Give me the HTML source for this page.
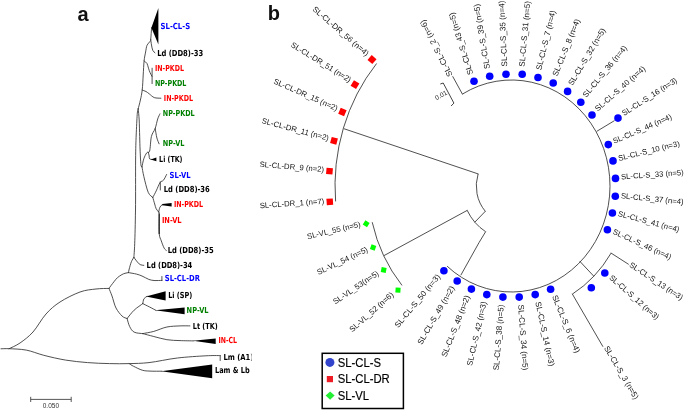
<!DOCTYPE html>
<html><head><meta charset="utf-8"><title>Figure</title>
<style>html,body{margin:0;padding:0;background:#fff;}svg{display:block;will-change:transform;filter:opacity(1)}</style></head>
<body>
<svg width="685" height="411" viewBox="0 0 685 411">
<path d="M151.6,27.7 C151.4,29.6 151.0,37.1 150.7,39.4 C150.4,41.7 150.5,40.6 149.9,41.6 C149.3,42.6 147.7,43.6 147.0,45.3 C146.3,47.0 146.1,49.4 145.6,52.0 C145.1,54.6 144.5,57.1 144.1,60.9 C143.7,64.7 143.5,70.1 143.2,75.0 C142.9,79.9 142.7,85.9 142.2,90.1 C141.7,94.3 141.1,96.9 140.4,100.0 C139.7,103.1 138.6,107.3 138.2,108.8" fill="none" stroke="#303030" stroke-width="0.85" stroke-linecap="round" stroke-linejoin="round"/>
<path d="M150.7,39.4 C150.8,40.3 151.2,43.2 151.5,45.0 C151.8,46.8 152.2,49.1 152.8,50.4 C153.4,51.7 154.6,52.4 155.0,52.8" fill="none" stroke="#303030" stroke-width="0.85" stroke-linecap="round" stroke-linejoin="round"/>
<path d="M144.1,60.9 C144.6,61.3 146.3,62.3 147.0,63.5 C147.7,64.7 148.0,66.7 148.5,68.2 C149.0,69.7 149.4,71.2 150.0,72.5 C150.6,73.8 151.6,75.7 151.9,76.3" fill="none" stroke="#303030" stroke-width="0.85" stroke-linecap="round" stroke-linejoin="round"/>
<path d="M152.1,68.2 L152.1,83.6" fill="none" stroke="#303030" stroke-width="0.85" stroke-linecap="round" stroke-linejoin="round"/>
<path d="M142.2,90.1 C142.8,90.3 144.8,90.9 146.0,91.5 C147.2,92.1 147.8,92.8 149.2,93.8 C150.6,94.8 152.4,96.9 154.3,97.6 C156.2,98.3 159.8,98.1 160.9,98.2" fill="none" stroke="#303030" stroke-width="0.85" stroke-linecap="round" stroke-linejoin="round"/>
<path d="M138.2,108.8 C138.0,109.8 137.5,110.2 137.2,114.6 C136.9,119.0 136.5,127.4 136.2,135.0 C135.9,142.6 135.7,147.5 135.6,160.0 C135.5,172.5 135.7,196.0 135.5,210.0 C135.3,224.0 135.0,235.9 134.7,243.8 C134.4,251.7 134.0,255.1 133.9,257.3" fill="none" stroke="#303030" stroke-width="0.85" stroke-linecap="round" stroke-linejoin="round"/>
<path d="M138.2,108.8 C138.4,110.7 138.9,115.4 139.2,120.0 C139.4,124.6 139.5,131.5 139.7,136.5 C139.8,141.5 139.9,145.3 140.1,150.0 C140.3,154.7 140.6,161.8 140.9,164.6 C141.2,167.4 141.8,166.4 142.0,166.8" fill="none" stroke="#303030" stroke-width="0.85" stroke-linecap="round" stroke-linejoin="round"/>
<path d="M142.0,166.8 C142.3,165.5 143.0,161.1 143.8,158.8 C144.6,156.5 145.7,154.2 146.7,152.9 C147.7,151.6 148.8,153.8 149.6,151.1 C150.4,148.4 150.5,140.3 151.4,136.5 C152.3,132.7 154.1,131.4 155.2,128.5 C156.2,125.6 156.9,121.4 157.7,119.0 C158.5,116.6 159.5,114.8 159.9,113.9" fill="none" stroke="#303030" stroke-width="0.85" stroke-linecap="round" stroke-linejoin="round"/>
<path d="M155.2,128.5 C155.5,130.1 156.2,135.4 156.9,138.0 C157.6,140.6 158.7,142.8 159.1,143.8" fill="none" stroke="#303030" stroke-width="0.85" stroke-linecap="round" stroke-linejoin="round"/>
<path d="M148.2,152.0 C148.4,152.7 149.0,154.9 149.2,156.0 C149.4,157.1 149.0,158.2 149.6,158.8 C150.2,159.4 152.1,159.4 152.6,159.5" fill="none" stroke="#303030" stroke-width="0.85" stroke-linecap="round" stroke-linejoin="round"/>
<path d="M142.0,166.8 C142.3,168.4 142.8,172.1 143.8,176.3 C144.8,180.6 146.7,188.8 148.2,192.3 C149.7,195.8 152.0,196.6 152.8,197.4" fill="none" stroke="#303030" stroke-width="0.85" stroke-linecap="round" stroke-linejoin="round"/>
<path d="M152.8,197.4 C153.4,196.3 155.0,193.4 156.2,190.9 C157.4,188.4 158.9,184.3 160.1,182.5 C161.3,180.7 162.3,181.6 163.4,180.3 C164.5,179.0 166.1,175.5 166.6,174.5" fill="none" stroke="#303030" stroke-width="0.85" stroke-linecap="round" stroke-linejoin="round"/>
<path d="M160.3,181.8 L160.3,190.0" fill="none" stroke="#303030" stroke-width="0.85" stroke-linecap="round" stroke-linejoin="round"/>
<path d="M152.8,197.4 C153.1,198.5 154.1,202.1 154.7,204.0 C155.3,205.9 155.5,207.5 156.2,208.8 C156.9,210.1 158.3,211.5 158.7,212.0" fill="none" stroke="#303030" stroke-width="0.85" stroke-linecap="round" stroke-linejoin="round"/>
<path d="M158.7,212.0 C158.9,211.2 159.3,208.5 159.9,207.3 C160.5,206.1 161.2,205.4 162.0,204.9 C162.8,204.4 164.1,204.7 164.5,204.6" fill="none" stroke="#303030" stroke-width="0.85" stroke-linecap="round" stroke-linejoin="round"/>
<path d="M158.7,212.0 C158.8,212.4 159.0,211.0 159.1,214.6 C159.2,218.2 158.8,229.2 159.2,233.6 C159.6,238.0 160.5,238.5 161.3,240.9 C162.1,243.3 163.3,246.6 164.2,248.2 C165.0,249.8 166.0,250.0 166.4,250.4" fill="none" stroke="#303030" stroke-width="0.85" stroke-linecap="round" stroke-linejoin="round"/>
<path d="M133.9,257.3 C134.3,257.9 135.5,259.7 136.5,260.9 C137.5,262.1 138.9,263.9 140.1,264.6 C141.3,265.3 143.2,265.2 143.8,265.3" fill="none" stroke="#303030" stroke-width="0.85" stroke-linecap="round" stroke-linejoin="round"/>
<path d="M133.9,257.3 C133.5,258.0 132.2,259.8 131.4,261.7 C130.6,263.6 129.7,267.2 129.2,269.0 C128.7,270.8 128.6,272.0 128.5,272.6" fill="none" stroke="#303030" stroke-width="0.85" stroke-linecap="round" stroke-linejoin="round"/>
<path d="M128.5,272.6 C129.8,272.9 134.2,273.5 136.5,274.1 C138.8,274.7 139.9,275.1 142.0,276.0 C144.1,276.9 146.8,278.6 148.8,279.4 C150.8,280.1 151.8,280.3 154.0,280.5 C156.2,280.7 160.6,280.4 161.9,280.4" fill="none" stroke="#303030" stroke-width="0.85" stroke-linecap="round" stroke-linejoin="round"/>
<path d="M161.9,276.5 L161.9,280.6" fill="none" stroke="#303030" stroke-width="0.85" stroke-linecap="round" stroke-linejoin="round"/>
<path d="M128.5,272.6 C127.9,272.7 126.1,273.0 125.0,273.3 C123.9,273.6 123.2,273.9 121.9,274.6 C120.7,275.3 118.8,276.5 117.5,277.6 C116.2,278.7 115.5,279.9 114.4,281.2 C113.3,282.5 111.9,284.4 111.0,285.6 C110.1,286.8 109.3,287.9 109.0,288.4" fill="none" stroke="#303030" stroke-width="0.85" stroke-linecap="round" stroke-linejoin="round"/>
<path d="M9.0,348.7 C10.8,347.8 16.0,345.8 20.0,343.0 C24.0,340.2 28.7,336.8 33.0,332.0 C37.3,327.2 41.5,319.0 46.0,314.0 C50.5,309.0 54.3,305.7 60.0,302.0 C65.7,298.3 74.0,294.2 80.0,292.0 C86.0,289.8 91.2,289.6 96.0,289.0 C100.8,288.4 106.8,288.5 109.0,288.4" fill="none" stroke="#303030" stroke-width="0.85" stroke-linecap="round" stroke-linejoin="round"/>
<path d="M109.0,288.4 C109.5,289.7 110.8,292.7 112.0,296.0 C113.2,299.3 114.3,304.7 116.0,308.0 C117.7,311.3 120.2,314.2 122.0,316.0 C123.8,317.8 126.2,318.1 127.1,318.5" fill="none" stroke="#303030" stroke-width="0.85" stroke-linecap="round" stroke-linejoin="round"/>
<path d="M127.1,318.5 C128.3,317.1 131.5,312.7 134.1,310.2 C136.7,307.7 141.4,304.7 142.8,303.6" fill="none" stroke="#303030" stroke-width="0.85" stroke-linecap="round" stroke-linejoin="round"/>
<path d="M142.8,303.6 C143.0,302.8 143.2,300.0 143.9,298.8 C144.6,297.6 146.5,296.8 147.0,296.4" fill="none" stroke="#303030" stroke-width="0.85" stroke-linecap="round" stroke-linejoin="round"/>
<path d="M142.8,303.6 C143.9,304.2 147.2,305.8 149.4,306.9 C151.6,308.0 154.9,309.8 156.0,310.4" fill="none" stroke="#303030" stroke-width="0.85" stroke-linecap="round" stroke-linejoin="round"/>
<path d="M127.1,318.5 C127.5,319.9 128.5,324.3 129.7,326.6 C130.9,328.9 131.9,330.9 134.1,332.1 C136.3,333.3 141.4,333.4 142.8,333.6" fill="none" stroke="#303030" stroke-width="0.85" stroke-linecap="round" stroke-linejoin="round"/>
<path d="M142.8,333.6 C144.6,333.2 149.8,332.5 153.8,331.4 C157.8,330.3 162.5,327.9 166.9,327.0 C171.3,326.1 176.3,326.1 180.1,325.9 C183.9,325.7 188.3,325.9 189.9,325.9" fill="none" stroke="#303030" stroke-width="0.85" stroke-linecap="round" stroke-linejoin="round"/>
<path d="M142.8,333.6 C144.6,334.1 149.8,335.5 153.8,336.5 C157.8,337.5 162.5,339.0 166.9,339.7 C171.3,340.4 175.5,340.4 180.0,340.6 C184.5,340.8 191.7,340.8 194.0,340.9" fill="none" stroke="#303030" stroke-width="0.85" stroke-linecap="round" stroke-linejoin="round"/>
<path d="M1.0,348.8 C2.3,348.8 4.8,348.5 9.0,348.7 C13.2,348.9 20.5,349.0 26.3,350.1 C32.1,351.2 37.2,353.6 43.8,355.3 C50.4,357.0 58.4,358.9 65.7,360.1 C73.0,361.3 80.3,362.0 87.6,362.6 C94.9,363.2 102.6,363.4 109.5,363.6 C116.4,363.8 122.6,363.8 129.2,363.6 C135.8,363.4 141.0,363.5 149.0,362.6 C157.0,361.7 167.9,359.1 177.4,358.0 C186.9,356.9 198.8,356.2 205.9,355.8 C213.0,355.4 217.8,355.6 220.2,355.6" fill="none" stroke="#303030" stroke-width="0.85" stroke-linecap="round" stroke-linejoin="round"/>
<path d="M220.2,355.6 L220.2,360.5" fill="none" stroke="#303030" stroke-width="0.85" stroke-linecap="round" stroke-linejoin="round"/>
<path d="M129.2,363.6 C129.9,364.1 131.4,365.2 133.6,366.3 C135.8,367.4 139.6,369.4 142.3,370.2 C145.0,371.0 146.7,370.9 150.0,371.1 C153.3,371.3 160.0,371.2 162.0,371.2" fill="none" stroke="#303030" stroke-width="0.85" stroke-linecap="round" stroke-linejoin="round"/>
<path d="M159.2,213.5 L159.2,234" stroke="#111" stroke-width="1.05" fill="none"/>
<polygon points="151.4,27.7 158.4,8.0 158.4,44.5" fill="#000"/>
<polygon points="150.6,159.4 156.4,157.6 156.4,161.2" fill="#000"/>
<polygon points="162.3,204.1 162.3,205.3 171.6,206.5 171.6,202.9" fill="#000"/>
<polygon points="146.0,296.5 165.6,291.2 165.6,300.4" fill="#000"/>
<polygon points="154.9,310.3 184.6,307.4 184.6,314.2" fill="#000"/>
<polygon points="193.0,340.8 215.7,338.6 215.7,344.0" fill="#000"/>
<polygon points="161.0,371.2 212.2,364.6 212.2,378.2" fill="#000"/>
<defs><clipPath id="cutA"><rect x="0" y="340" width="251.5" height="40"/></clipPath></defs>
<g font-family="'DejaVu Sans','Liberation Sans',sans-serif" font-weight="bold" font-size="7.6px">
<g><text transform="translate(160.6,28.9) scale(1,1.1)" fill="#0000ff" textLength="29.5" lengthAdjust="spacingAndGlyphs">SL-CL-S</text></g>
<g><text transform="translate(157.2,55.9) scale(1,1.1)" fill="#000000" textLength="46.0" lengthAdjust="spacingAndGlyphs">Ld (DD8)-33</text></g>
<g><text transform="translate(155.0,70.8) scale(1,1.1)" fill="#ff0000" textLength="28.9" lengthAdjust="spacingAndGlyphs">IN-PKDL</text></g>
<g><text transform="translate(155.0,85.9) scale(1,1.1)" fill="#008000" textLength="31.4" lengthAdjust="spacingAndGlyphs">NP-PKDL</text></g>
<g><text transform="translate(163.8,100.8) scale(1,1.1)" fill="#ff0000" textLength="29.2" lengthAdjust="spacingAndGlyphs">IN-PKDL</text></g>
<g><text transform="translate(162.8,115.7) scale(1,1.1)" fill="#008000" textLength="31.8" lengthAdjust="spacingAndGlyphs">NP-PKDL</text></g>
<g><text transform="translate(162.8,146.4) scale(1,1.1)" fill="#008000" textLength="21.6" lengthAdjust="spacingAndGlyphs">NP-VL</text></g>
<g><text transform="translate(159.1,161.8) scale(1,1.1)" fill="#000000" textLength="23.4" lengthAdjust="spacingAndGlyphs">Li (TK)</text></g>
<g><text transform="translate(169.6,178.2) scale(1,1.1)" fill="#0000ff" textLength="21.1" lengthAdjust="spacingAndGlyphs">SL-VL</text></g>
<g><text transform="translate(163.8,192.4) scale(1,1.1)" fill="#000000" textLength="46.0" lengthAdjust="spacingAndGlyphs">Ld (DD8)-36</text></g>
<g><text transform="translate(173.9,207.4) scale(1,1.1)" fill="#ff0000" textLength="29.2" lengthAdjust="spacingAndGlyphs">IN-PKDL</text></g>
<g><text transform="translate(161.9,222.6) scale(1,1.1)" fill="#ff0000" textLength="19.7" lengthAdjust="spacingAndGlyphs">IN-VL</text></g>
<g><text transform="translate(167.7,252.8) scale(1,1.1)" fill="#000000" textLength="46.0" lengthAdjust="spacingAndGlyphs">Ld (DD8)-35</text></g>
<g><text transform="translate(146.6,267.8) scale(1,1.1)" fill="#000000" textLength="45.7" lengthAdjust="spacingAndGlyphs">Ld (DD8)-34</text></g>
<g><text transform="translate(164.8,281.3) scale(1,1.1)" fill="#0000ff" textLength="35.1" lengthAdjust="spacingAndGlyphs">SL-CL-DR</text></g>
<g><text transform="translate(168.2,297.8) scale(1,1.1)" fill="#000000" textLength="24.1" lengthAdjust="spacingAndGlyphs">Li (SP)</text></g>
<g><text transform="translate(186.6,313.4) scale(1,1.1)" fill="#008000" textLength="21.9" lengthAdjust="spacingAndGlyphs">NP-VL</text></g>
<g><text transform="translate(192.8,328.5) scale(1,1.1)" fill="#000000" textLength="24.9" lengthAdjust="spacingAndGlyphs">Lt (TK)</text></g>
<g><text transform="translate(218.4,343.4) scale(1,1.1)" fill="#ff0000" textLength="18.6" lengthAdjust="spacingAndGlyphs">IN-CL</text></g>
<g clip-path="url(#cutA)"><text transform="translate(223.4,360.4) scale(1,1.1)" fill="#000000" textLength="30.0" lengthAdjust="spacingAndGlyphs">Lm (A1)</text></g>
<g><text transform="translate(215.0,373.4) scale(1,1.1)" fill="#000000" textLength="34.6" lengthAdjust="spacingAndGlyphs">Lam &amp; Lb</text></g>
</g>
<path d="M30.7,399.4 H71.2 M30.7,396.8 V402 M71.2,396.8 V402" stroke="#444" stroke-width="0.9" fill="none"/>
<text x="50.9" y="408.3" font-family="'Liberation Sans',sans-serif" font-size="6.5px" fill="#333" text-anchor="middle">0.050</text>
<text x="77.5" y="20.8" font-family="'Liberation Sans',sans-serif" font-weight="bold" font-size="20px" fill="#111">a</text>
<text x="267.8" y="20.4" font-family="'Liberation Sans',sans-serif" font-weight="bold" font-size="20px" fill="#111">b</text>
<path d="M462.4,94.1 A98.5,106.0 0 1 1 447.1,266.2" fill="none" stroke="#303030" stroke-width="0.85"/>
<path d="M462.4,94.1 L452.8,76.6" fill="none" stroke="#303030" stroke-width="0.85" stroke-linecap="round" stroke-linejoin="round"/>
<path d="M597.0,131.2 L614.2,120.8" fill="none" stroke="#303030" stroke-width="0.85" stroke-linecap="round" stroke-linejoin="round"/>
<path d="M580.0,261.5 L593.5,275.9" fill="none" stroke="#303030" stroke-width="0.85" stroke-linecap="round" stroke-linejoin="round"/>
<path d="M611.1,253.1 A117.5,126.4 0 0 1 572.4,294.1" fill="none" stroke="#303030" stroke-width="0.85"/>
<path d="M611.1,253.1 L628.4,264.2" fill="none" stroke="#303030" stroke-width="0.85" stroke-linecap="round" stroke-linejoin="round"/>
<path d="M572.4,294.1 L602.8,346.4" fill="none" stroke="#303030" stroke-width="0.85" stroke-linecap="round" stroke-linejoin="round"/>
<path d="M461.0,274.9 L478.9,242.8 L485.5,231.9" fill="none" stroke="#303030" stroke-width="0.85" stroke-linecap="round" stroke-linejoin="round"/>
<path d="M485.6,231.7 A49.8,53.6 0 0 1 467.2,210.4" fill="none" stroke="#303030" stroke-width="0.85"/>
<path d="M467.2,210.4 L384.2,255.5" fill="none" stroke="#303030" stroke-width="0.85" stroke-linecap="round" stroke-linejoin="round"/>
<path d="M485.3,211.3 A35.2,37.9 0 0 1 478.1,173.9" fill="none" stroke="#303030" stroke-width="0.85"/>
<path d="M485.3,211.3 L475.0,222.0" fill="none" stroke="#303030" stroke-width="0.85" stroke-linecap="round" stroke-linejoin="round"/>
<path d="M478.1,173.9 L344.2,128.8" fill="none" stroke="#303030" stroke-width="0.85" stroke-linecap="round" stroke-linejoin="round"/>
<path d="M335.6,201.4 A176.5,189.9 0 0 1 376.6,63.5" fill="none" stroke="#303030" stroke-width="0.85"/>
<path d="M402.0,285.4 A143.3,154.2 0 0 1 372.2,222.2" fill="none" stroke="#303030" stroke-width="0.85"/>
<g font-family="'Liberation Sans',sans-serif" font-size="8px" fill="#151515">
<text transform="translate(473.2,73.8) rotate(-107.3)" font-size="8.07px" text-anchor="start" textLength="64.7" lengthAdjust="spacingAndGlyphs">SL-CL-S_43 (n=5)</text>
<text transform="translate(489.9,68.6) rotate(-99.5)" font-size="8.10px" text-anchor="start">SL-CL-S_39 (n=5)</text>
<text transform="translate(507.2,66.5) rotate(-92.6)" font-size="8.11px" text-anchor="start">SL-CL-S_35 (n=4)</text>
<text transform="translate(524.4,66.9) rotate(-84.7)" font-size="8.10px" text-anchor="start">SL-CL-S_31 (n=5)</text>
<text transform="translate(541.2,70.6) rotate(-76.3)" font-size="8.08px" text-anchor="start">SL-CL-S_7 (n=4)</text>
<text transform="translate(557.3,76.8) rotate(-68.0)" font-size="8.05px" text-anchor="start">SL-CL-S_8 (n=4)</text>
<text transform="translate(572.5,86.1) rotate(-59.3)" font-size="8.01px" text-anchor="start">SL-CL-S_32 (n=5)</text>
<text transform="translate(586.3,97.9) rotate(-50.4)" font-size="7.95px" text-anchor="start">SL-CL-S_36 (n=4)</text>
<text transform="translate(597.8,111.8) rotate(-41.4)" font-size="7.89px" text-anchor="start">SL-CL-S_40 (n=4)</text>
<text transform="translate(624.0,116.0) rotate(-32.5)" font-size="7.83px" text-anchor="start">SL-CL-S_16 (n=3)</text>
<text transform="translate(614.3,143.7) rotate(-23.2)" font-size="7.78px" text-anchor="start">SL-CL-S_44 (n=4)</text>
<text transform="translate(618.9,161.0) rotate(-13.9)" font-size="7.74px" text-anchor="start" textLength="63.1" lengthAdjust="spacingAndGlyphs">SL-CL-S_10 (n=3)</text>
<text transform="translate(621.2,179.5) rotate(-4.2)" font-size="7.72px" text-anchor="start">SL-CL-S_33 (n=5)</text>
<text transform="translate(620.7,198.3) rotate(5.7)" font-size="7.72px" text-anchor="start">SL-CL-S_37 (n=4)</text>
<text transform="translate(617.6,215.9) rotate(15.0)" font-size="7.75px" text-anchor="start">SL-CL-S_41 (n=4)</text>
<text transform="translate(612.2,233.5) rotate(24.5)" font-size="7.79px" text-anchor="start">SL-CL-S_46 (n=4)</text>
<text transform="translate(608.7,278.4) rotate(41.3)" font-size="7.89px" text-anchor="start" textLength="63.1" lengthAdjust="spacingAndGlyphs">SL-CL-S_12 (n=3)</text>
<text transform="translate(552.0,296.6) rotate(67.8)" font-size="8.05px" text-anchor="start" textLength="61.5" lengthAdjust="spacingAndGlyphs">SL-CL-S_6 (n=4)</text>
<text transform="translate(535.3,302.3) rotate(77.7)" font-size="8.09px" text-anchor="start">SL-CL-S_14 (n=3)</text>
<text transform="translate(518.2,304.8) rotate(86.0)" font-size="8.10px" text-anchor="start">SL-CL-S_34 (n=5)</text>
<text transform="translate(503.8,304.8) rotate(274.4)" font-size="8.10px" text-anchor="end">SL-CL-S_38 (n=5)</text>
<text transform="translate(486.6,302.2) rotate(282.8)" font-size="8.09px" text-anchor="end">SL-CL-S_42 (n=3)</text>
<text transform="translate(470.1,296.5) rotate(291.3)" font-size="8.06px" text-anchor="end">SL-CL-S_48 (n=2)</text>
<text transform="translate(454.9,287.9) rotate(300.1)" font-size="8.01px" text-anchor="end" textLength="66.2" lengthAdjust="spacingAndGlyphs">SL-CL-S_49 (n=2)</text>
<text transform="translate(440.7,276.9) rotate(309.6)" font-size="7.95px" text-anchor="end" textLength="66.6" lengthAdjust="spacingAndGlyphs">SL-CL-S_50 (n=3)</text>
<text transform="translate(452.8,74.9) rotate(-117.0)" font-size="8.03px" text-anchor="start" textLength="62.5" lengthAdjust="spacingAndGlyphs">SL-CL-S_2 (n=6)</text>
<text transform="translate(628.8,266.3) rotate(33.2)" font-size="7.84px" text-anchor="start" textLength="62.1" lengthAdjust="spacingAndGlyphs">SL-CL-S_13 (n=3)</text>
<text transform="translate(603.8,347.9) rotate(59.5)" font-size="8.01px" text-anchor="start" textLength="60.4" lengthAdjust="spacingAndGlyphs">SL-CL-S_3 (n=5)</text>
<text transform="translate(366.1,56.5) rotate(400.7)" font-size="7.88px" text-anchor="end" textLength="71.3" lengthAdjust="spacingAndGlyphs">SL-CL-DR_56 (n=4)</text>
<text transform="translate(349.0,82.6) rotate(391.8)" font-size="7.83px" text-anchor="end" textLength="69.1" lengthAdjust="spacingAndGlyphs">SL-CL-DR_51 (n=2)</text>
<text transform="translate(336.4,111.0) rotate(23.6)" font-size="7.78px" text-anchor="end">SL-CL-DR_15 (n=2)</text>
<text transform="translate(328.1,140.8) rotate(374.9)" font-size="7.75px" text-anchor="end" textLength="69.1" lengthAdjust="spacingAndGlyphs">SL-CL-DR_11 (n=2)</text>
<text transform="translate(323.8,172.1) rotate(4.7)" font-size="7.72px" text-anchor="end">SL-CL-DR_9 (n=2)</text>
<text transform="translate(324.3,203.7) rotate(356.0)" font-size="7.72px" text-anchor="end">SL-CL-DR_1 (n=7)</text>
<text transform="translate(361.0,226.6) rotate(346.7)" font-size="7.74px" text-anchor="end">SL-VL_55 (n=5)</text>
<text transform="translate(368.4,251.4) rotate(334.6)" font-size="7.79px" text-anchor="end">SL-VL_54 (n=5)</text>
<text transform="translate(379.4,274.7) rotate(325.9)" font-size="7.84px" text-anchor="end">SL-VL_53(n=5)</text>
<text transform="translate(394.1,295.6) rotate(318.5)" font-size="7.89px" text-anchor="end">SL-VL_52 (n=6)</text>
</g>
<circle cx="474.0" cy="81.3" r="3.8" fill="#0000ff"/>
<circle cx="489.7" cy="76.3" r="3.8" fill="#0000ff"/>
<circle cx="506.0" cy="74.2" r="3.8" fill="#0000ff"/>
<circle cx="522.2" cy="74.3" r="3.8" fill="#0000ff"/>
<circle cx="538.0" cy="77.5" r="3.8" fill="#0000ff"/>
<circle cx="553.2" cy="83.0" r="3.8" fill="#0000ff"/>
<circle cx="567.6" cy="91.4" r="3.8" fill="#0000ff"/>
<circle cx="580.8" cy="102.2" r="3.8" fill="#0000ff"/>
<circle cx="592.0" cy="115.0" r="3.8" fill="#0000ff"/>
<circle cx="618.0" cy="118.1" r="3.8" fill="#0000ff"/>
<circle cx="608.3" cy="144.6" r="3.8" fill="#0000ff"/>
<circle cx="613.0" cy="160.9" r="3.8" fill="#0000ff"/>
<circle cx="615.5" cy="178.4" r="3.8" fill="#0000ff"/>
<circle cx="615.3" cy="196.3" r="3.8" fill="#0000ff"/>
<circle cx="612.4" cy="213.0" r="3.8" fill="#0000ff"/>
<circle cx="607.4" cy="229.7" r="3.8" fill="#0000ff"/>
<circle cx="604.8" cy="273.0" r="3.8" fill="#0000ff"/>
<circle cx="550.6" cy="289.3" r="3.8" fill="#0000ff"/>
<circle cx="535.2" cy="294.6" r="3.8" fill="#0000ff"/>
<circle cx="519.2" cy="297.1" r="3.8" fill="#0000ff"/>
<circle cx="502.9" cy="297.1" r="3.8" fill="#0000ff"/>
<circle cx="486.8" cy="294.6" r="3.8" fill="#0000ff"/>
<circle cx="471.4" cy="289.1" r="3.8" fill="#0000ff"/>
<circle cx="457.2" cy="281.0" r="3.8" fill="#0000ff"/>
<circle cx="443.9" cy="270.7" r="3.8" fill="#0000ff"/>
<circle cx="591.3" cy="287.7" r="3.8" fill="#0000ff"/>
<rect x="-3.2" y="-3.2" width="6.4" height="6.4" fill="#ff0000" transform="translate(372.0,59.6) rotate(220.7)"/>
<rect x="-3.2" y="-3.2" width="6.4" height="6.4" fill="#ff0000" transform="translate(355.0,84.6) rotate(211.8)"/>
<rect x="-3.2" y="-3.2" width="6.4" height="6.4" fill="#ff0000" transform="translate(342.4,112.0) rotate(-156.4)"/>
<rect x="-3.2" y="-3.2" width="6.4" height="6.4" fill="#ff0000" transform="translate(334.0,140.8) rotate(194.8)"/>
<rect x="-3.2" y="-3.2" width="6.4" height="6.4" fill="#ff0000" transform="translate(329.5,171.1) rotate(-175.3)"/>
<rect x="-3.2" y="-3.2" width="6.4" height="6.4" fill="#ff0000" transform="translate(329.8,201.8) rotate(176.0)"/>
<rect x="-2.5" y="-2.5" width="5" height="5" fill="#00ff00" transform="translate(366.2,223.8) rotate(211.7)"/>
<rect x="-2.5" y="-2.5" width="5" height="5" fill="#00ff00" transform="translate(373.1,247.5) rotate(199.6)"/>
<rect x="-2.5" y="-2.5" width="5" height="5" fill="#00ff00" transform="translate(383.7,270.0) rotate(190.9)"/>
<rect x="-2.5" y="-2.5" width="5" height="5" fill="#00ff00" transform="translate(398.0,290.2) rotate(183.5)"/>
<path d="M440.3,84 L443.2,83 L453.9,103.1 L451.1,106" fill="none" stroke="#303030" stroke-width="0.9"/>
<text transform="translate(442.1,97.1) rotate(-29)" text-anchor="middle" font-family="'Liberation Sans',sans-serif" font-size="6.5px" fill="#222">0.01</text>
<rect x="322.2" y="353.3" width="81.2" height="55.2" fill="#fff" stroke="#000" stroke-width="1.5"/>
<circle cx="329.9" cy="362.4" r="4.5" fill="#3344cc"/>
<rect x="326.8" y="376" width="6.2" height="6.2" fill="#ee1c24"/>
<polygon points="325.6,395.6 330.1,391.4 334.6,395.6 330.1,399.8" fill="#22ee33"/>
<g font-family="'Liberation Sans',sans-serif" font-size="11.3px" fill="#000" stroke="#000" stroke-width="0.15">
<text transform="translate(337.7,366.7) scale(1,1.07)">SL-CL-S</text>
<text transform="translate(337.7,383.2) scale(1,1.07)">SL-CL-DR</text>
<text transform="translate(337.7,399.7) scale(1,1.07)">SL-VL</text>
</g>
</svg>
</body></html>
